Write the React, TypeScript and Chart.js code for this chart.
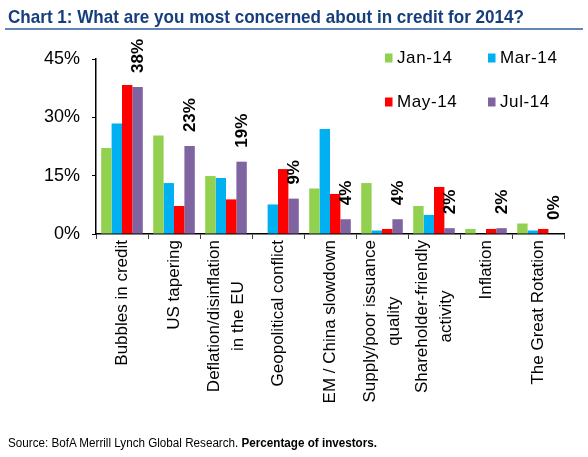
import React, { useEffect, useLayoutEffect, useRef } from "react";
import { Chart, registerables } from "chart.js";

Chart.register(...registerables);

const categories: string[][] = [
  ["Bubbles in credit"],
  ["US tapering"],
  ["Deflation/disinflation", "in the EU"],
  ["Geopolitical conflict"],
  ["EM / China slowdown"],
  ["Supply/poor issuance", "quality"],
  ["Shareholder-friendly", "activity"],
  ["Inflation"],
  ["The Great Rotation"],
];
const jan14 = [22.1, 25.3, 14.9, 0, 11.7, 13.1, 7.2, 1.3, 2.7];
const mar14 = [28.4, 13.1, 14.4, 7.6, 27.0, 0.9, 4.9, 0, 0.9];
const may14 = [38.3, 7.2, 8.9, 16.7, 10.3, 1.3, 12.1, 1.3, 1.3];
const jul14 = [37.8, 22.6, 18.6, 9.1, 3.8, 3.8, 1.5, 1.5, 0];
const jul14Labels = ["38%", "23%", "19%", "9%", "4%", "4%", "2%", "2%", "0%"];
const seriesNames = ["Jan-14", "Mar-14", "May-14", "Jul-14"];
const seriesColors = ["#92D050", "#00B0F0", "#FF0000", "#8064A2"];
const yMax = 45;
const yStep = 15;

const titleText = "Chart 1: What are you most concerned about in credit for 2014?";
const sourceText = "Source: BofA Merrill Lynch Global Research. ";
const sourceBold = "Percentage of investors.";

const FONT = "'Liberation Sans', Arial, sans-serif";

const customPlugin = {
  id: "customText",
  afterDraw(chart: any) {
    const ctx = chart.ctx as CanvasRenderingContext2D;
    const xs = chart.scales.x;
    const ys = chart.scales.y;
    ctx.save();
    ctx.fillStyle = "#000";

    // category labels (rotated, centered lines)
    ctx.font = `17px ${FONT}`;
    categories.forEach((lines, i) => {
      const cx = xs.getPixelForValue(i);
      const w = Math.max(...lines.map((l) => ctx.measureText(l).width));
      ctx.save();
      ctx.translate(cx, ys.bottom + 6);
      ctx.rotate(-Math.PI / 2);
      ctx.textAlign = "center";
      ctx.textBaseline = "middle";
      lines.forEach((l, j) => {
        ctx.fillText(l, -w / 2, (j - (lines.length - 1) / 2) * 24);
      });
      ctx.restore();
    });

    // data labels above Jul-14 bars
    ctx.font = `bold 17px ${FONT}`;
    const meta = chart.getDatasetMeta(3);
    meta.data.forEach((bar: any, i: number) => {
      ctx.save();
      ctx.translate(bar.x + 0.5, bar.y - 14);
      ctx.rotate(-Math.PI / 2);
      ctx.textAlign = "left";
      ctx.textBaseline = "middle";
      ctx.fillText(jul14Labels[i], 0, 0);
      ctx.restore();
    });

    // legend 2x2
    ctx.font = `17px ${FONT}`;
    (ctx as any).letterSpacing = "0.6px";
    ctx.textAlign = "left";
    ctx.textBaseline = "middle";
    const colX = [385, 488];
    const rowY = [58, 102];
    seriesNames.forEach((name, k) => {
      const cxp = colX[k % 2];
      const cyp = rowY[Math.floor(k / 2)];
      ctx.fillStyle = seriesColors[k];
      ctx.fillRect(cxp, cyp - 4.5, 7.5, 9);
      ctx.fillStyle = "#000";
      ctx.fillText(name, cxp + 12, cyp);
    });
    ctx.restore();
  },
};

function FitText(props: {
  left: number;
  top: number;
  width: number;
  style?: React.CSSProperties;
  children: React.ReactNode;
}) {
  const ref = useRef<HTMLDivElement>(null);
  useLayoutEffect(() => {
    const el = ref.current;
    if (!el) return;
    el.style.transform = "none";
    const w = el.getBoundingClientRect().width;
    if (w > 0) el.style.transform = `scaleX(${props.width / w})`;
  }, [props.width]);
  return (
    <div
      ref={ref}
      style={{
        position: "absolute",
        left: props.left,
        top: props.top,
        whiteSpace: "nowrap",
        transformOrigin: "0 0",
        ...props.style,
      }}
    >
      {props.children}
    </div>
  );
}

export default function App() {
  const canvasRef = useRef<HTMLCanvasElement>(null);

  useEffect(() => {
    document.body.style.margin = "0";
    const canvas = canvasRef.current;
    if (!canvas) return;
    const chart = new Chart(canvas, {
      type: "bar",
      data: {
        labels: categories.map((c) => c.join(" ")),
        datasets: [jan14, mar14, may14, jul14].map((d, k) => ({
          label: seriesNames[k],
          data: d,
          backgroundColor: seriesColors[k],
          borderWidth: 0,
          categoryPercentage: 0.8,
          barPercentage: 1.0,
        })),
      },
      options: {
        responsive: false,
        animation: false,
        events: [],
        layout: { padding: { left: 0, right: 24, top: 59, bottom: 0 } },
        plugins: {
          legend: { display: false },
          tooltip: { enabled: false },
          title: { display: false },
        },
        scales: {
          x: {
            afterFit: (scale: any) => {
              scale.height = 223;
            },
            grid: {
              offset: true,
              drawOnChartArea: false,
              drawTicks: true,
              tickLength: 5,
              color: "#404040",
              lineWidth: 1,
            },
            border: { display: true, color: "#000", width: 1.5 },
            ticks: { display: false },
          },
          y: {
            min: 0,
            max: yMax,
            afterFit: (scale: any) => {
              scale.width = 96;
            },
            grid: {
              drawOnChartArea: false,
              drawTicks: true,
              tickLength: 4,
              color: "#000",
              lineWidth: 1,
            },
            border: { display: true, color: "#000", width: 1.5 },
            ticks: {
              stepSize: yStep,
              padding: 12,
              color: "#000",
              font: { family: FONT, size: 18 },
              callback: (v: any) => `${v}%`,
            },
          },
        },
      },
      plugins: [customPlugin],
    });
    return () => chart.destroy();
  }, []);

  return (
    <div
      style={{
        position: "relative",
        width: 588,
        height: 457,
        background: "#fff",
        overflow: "hidden",
      }}
    >
      <canvas
        ref={canvasRef}
        width={588}
        height={457}
        style={{ position: "absolute", left: 0, top: 0, width: 588, height: 457 }}
      />
      <FitText
        left={8}
        top={6.5}
        width={516}
        style={{
          fontFamily: FONT,
          fontWeight: "bold",
          fontSize: 19,
          lineHeight: "19px",
          color: "#163E7C",
        }}
      >
        {titleText}
      </FitText>
      <div
        style={{
          position: "absolute",
          left: 5,
          top: 28,
          width: 578,
          height: 2,
          background: "#6285B6",
        }}
      />
      <FitText
        left={8}
        top={436.5}
        width={369}
        style={{
          fontFamily: FONT,
          fontSize: 12.5,
          lineHeight: "12.5px",
          color: "#000",
        }}
      >
        {sourceText}
        <b>{sourceBold}</b>
      </FitText>
    </div>
  );
}
